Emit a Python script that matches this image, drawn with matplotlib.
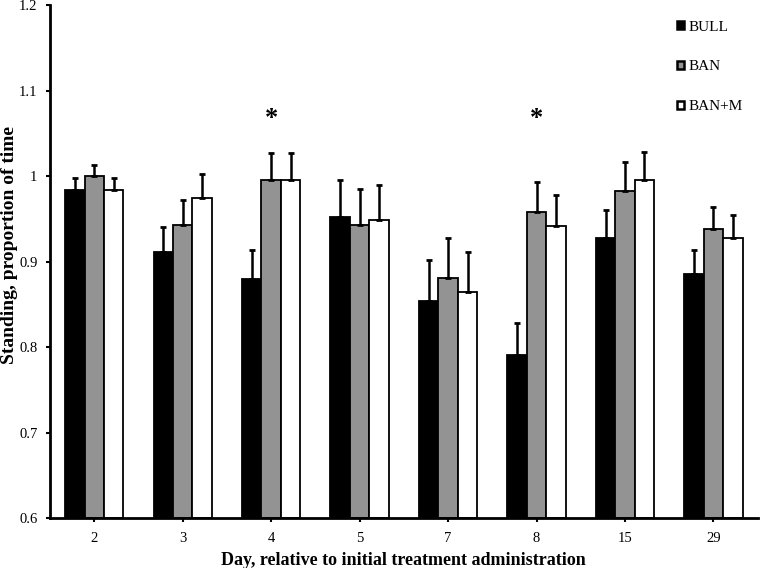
import matplotlib
matplotlib.use("Agg")
import matplotlib.pyplot as plt
import numpy as np

plt.rcParams['font.family'] = ['Liberation Serif', 'DejaVu Serif']

days = ["2", "3", "4", "5", "7", "8", "15", "29"]
series = ["BULL", "BAN", "BAN+M"]
bull = [0.984, 0.911, 0.880, 0.952, 0.854, 0.791, 0.927, 0.885]
bull_top = [0.998, 0.940, 0.913, 0.995, 0.902, 0.828, 0.960, 0.913]
ban = [1.000, 0.943, 0.995, 0.943, 0.881, 0.958, 0.983, 0.938]
ban_top = [1.013, 0.972, 1.027, 0.985, 0.927, 0.993, 1.016, 0.964]
banm = [0.984, 0.974, 0.995, 0.949, 0.864, 0.942, 0.995, 0.927]
banm_top = [0.998, 1.003, 1.027, 0.990, 0.911, 0.978, 1.028, 0.954]
sig_days = ["4", "8"]
sig_y = 1.067

colors = ["#000000", "#939393", "#ffffff"]

fig = plt.figure(figsize=(7.6, 5.68), dpi=100)
ax = fig.add_axes([0.0658, 0.088, 0.9312, 0.903])

x = np.arange(len(days))
w = 0.22
vals = [bull, ban, banm]
tops = [bull_top, ban_top, banm_top]
for i, (v, t, c, name) in enumerate(zip(vals, tops, colors, series)):
    v = np.array(v); t = np.array(t)
    pos = x + (i - 1) * w
    ax.bar(pos, v - 0.6, bottom=0.6, width=w, color=c, edgecolor='black',
           linewidth=1.3, label=name, zorder=2)
    ax.errorbar(pos, v, yerr=[np.zeros_like(v), t - v], fmt='none',
                ecolor='black', elinewidth=1.8, capsize=2.5, capthick=2, zorder=3)

for d in sig_days:
    ax.text(days.index(d), sig_y, "*", ha='center', va='center',
            fontsize=19, fontweight='bold')

ax.set_xlim(-0.5, len(days) - 0.5)
ax.set_ylim(0.6, 1.2)
ax.set_xticks(x)
ax.set_xticklabels(days, fontsize=10.5)
ax.set_yticks([0.6, 0.7, 0.8, 0.9, 1.0, 1.1, 1.2])
ax.set_yticklabels(["0.6", "0.7", "0.8", "0.9", "1", "1.1", "1.2"], fontsize=10.5)
ax.tick_params(axis='both', direction='out', length=3, width=1.5, color='black')
ax.tick_params(axis='x', pad=7)
ax.tick_params(axis='y', pad=6)
for s in ['top', 'right']:
    ax.spines[s].set_visible(False)
for s in ['left', 'bottom']:
    ax.spines[s].set_linewidth(2)

ax.set_xlabel("Day, relative to initial treatment administration",
              fontsize=13, fontweight='bold', labelpad=5)
fig.text(9.5 / 760, 1 - 245 / 568, "Standing, proportion of time",
         rotation=90, ha='center', va='center', fontsize=14, fontweight='bold')

leg = ax.legend(loc='upper left', bbox_to_anchor=(669 / 760, 1 - 13 / 568),
                bbox_transform=fig.transFigure, frameon=False, borderpad=0,
                fontsize=11, handlelength=0.45, handleheight=0.45,
                handletextpad=0.3, labelspacing=1.75)
for h in leg.legend_handles:
    h.set_linewidth(1.8)

fig.savefig("out.png", dpi=100)
